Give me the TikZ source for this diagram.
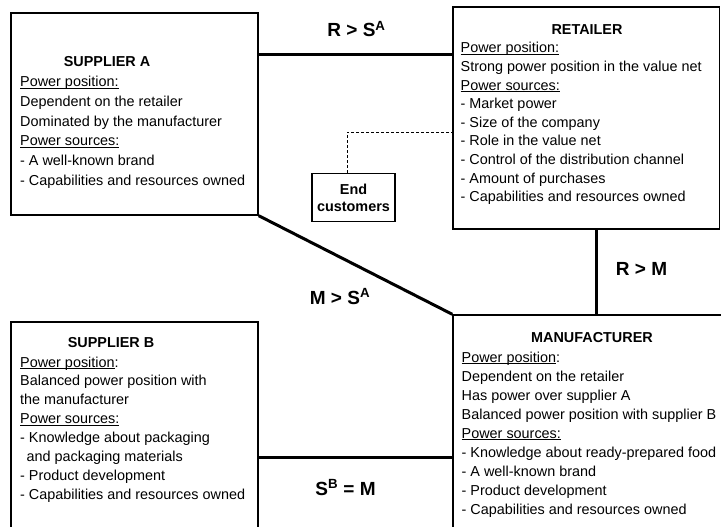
\documentclass[tikz,border=0pt]{standalone}
\usepackage{fontspec}
\setmainfont{Liberation Sans}
% underline set at a fixed depth below the baseline
\newcommand\uln[1]{\setbox0\hbox{#1}\rlap{\rule[-2pt]{\wd0}{0.8pt}}\box0}
\begin{document}
\begin{tikzpicture}[x=1pt,y=-1pt,
  box/.style={draw,line width=1.4pt,inner sep=0pt},
  link/.style={line width=3pt},
  feed/.style={line width=0.8pt,dash pattern=on 3pt off 2pt},
  body/.style={anchor=base west,inner sep=0pt,font=\fontsize{14.4}{17}\selectfont},
  title/.style={anchor=base,inner sep=0pt,font=\fontsize{14.4}{17}\selectfont\bfseries},
  rel/.style={anchor=base,inner sep=0pt,font=\fontsize{19}{22}\selectfont\bfseries}]
\useasboundingbox (0,0) rectangle (721,527);
\fill[white] (0,0) rectangle (721,527);

% actor boxes
\node[box,minimum width=247pt,minimum height=202pt] (supA) at (134.5,114) {};
\node[box,minimum width=266.5pt,minimum height=222pt] (ret) at (586.25,118) {};
\node[box,minimum width=307pt,minimum height=245pt] (man) at (606.5,437.5) {};
\node[box,minimum width=247pt,minimum height=238pt] (supB) at (134.5,441) {};
\node[box,minimum width=83pt,minimum height=48pt,align=center,
      font=\fontsize{14.4}{17}\selectfont\bfseries] (endc) at (353.5,197.5) {End\\customers};

% power relations between the actors
\draw[link] (supA.east |- 0,55) -- (ret.west |- 0,55);
\draw[link] (supA.south east) -- (man.north west);
\draw[link] (ret.south -| 596,0) -- (man.north -| 596,0);
\draw[link] (supB.east |- 0,457) -- (man.west |- 0,457);
\draw[feed] (endc.north -| 347,0) |- (ret.west |- 0,132);

\node[rel] (lRS) at (356.5,37) {R > S\textsuperscript{A}};
\node[rel] (lRM) at (641.5,275) {R > M};
\node[rel] (lMS) at (340,304) {M > S\textsuperscript{A}};
\node[rel] (lSM) at (345.5,495) {S\textsuperscript{B} = M};

% titles
\node[title] (tA) at (107,67) {SUPPLIER A};
\node[title] (tR) at (587,35) {RETAILER};
\node[title] (tM) at (592,342) {MANUFACTURER};
\node[title] (tB) at (111,347) {SUPPLIER B};

% box contents
\foreach \t [count=\i] in {{\uln{Power position:}},
    Dependent on the retailer,
    Dominated by the manufacturer,
    {\uln{Power sources:}},
    - A well-known brand,
    - Capabilities and resources owned}
  \node[body,name=supA-\i] at (20,{87+(\i-1)*19.6}) {\t};

\foreach \t [count=\i] in {{\uln{Power position:}},
    Strong power position in the value net,
    {\uln{Power sources:}},
    - Market power,
    - Size of the company,
    - Role in the value net,
    - Control of the distribution channel,
    - Amount of purchases,
    - Capabilities and resources owned}
  \node[body,name=ret-\i] at (460.5,{53+(\i-1)*18.6}) {\t};

\foreach \t [count=\i] in {{\uln{Power position}:},
    Dependent on the retailer,
    Has power over supplier A,
    Balanced power position with supplier B,
    {\uln{Power sources:}},
    - Knowledge about ready-prepared food,
    - A well-known brand,
    - Product development,
    - Capabilities and resources owned}
  \node[body,name=man-\i] at (461.5,{362+(\i-1)*19}) {\t};

\foreach \t [count=\i] in {{\uln{Power position}:},
    Balanced power position with,
    the manufacturer,
    {\uln{Power sources:}},
    - Knowledge about packaging,
    {\hspace*{6.5pt}and packaging materials},
    - Product development,
    - Capabilities and resources owned}
  \node[body,name=supB-\i] at (20,{367+(\i-1)*18.9}) {\t};
\end{tikzpicture}
\end{document}
